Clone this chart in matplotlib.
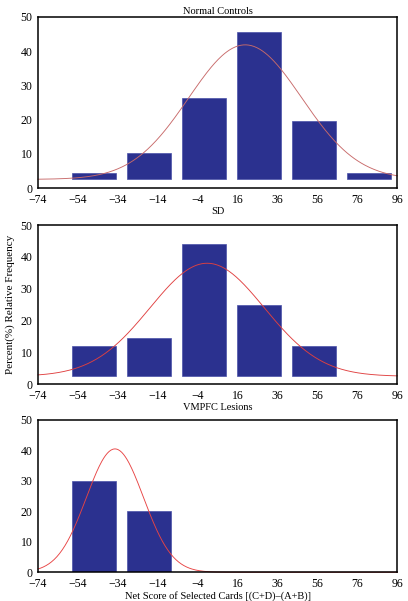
import numpy as np
import matplotlib
matplotlib.use("Agg")
import matplotlib.pyplot as plt

#######################
fontsize = 7.5
ticklabel_size = 8.5
linewidth = 0.65
axiswidth = 1.1
bar_color = "#2b318f"
########################

plt.rcParams['font.family'] = ['Liberation Serif', 'DejaVu Serif']

# x axis (tick labels as printed on the original)
tick_labels = ['\u221274', '\u221254', '\u221234', '\u221214', '\u22124',
               '16', '36', '56', '76', '96']
xmin, xmax = -74, 96
bin_centers = [-47.5, -21.5, 4.5, 30.5, 56.5, 82.5]
bin_width = 21

# Normal Controls (bars sit on a small offset)
nc_base = 2.6
nc_tops = [4.4, 10.2, 26.3, 45.5, 19.7, 4.4]
nc_fit = dict(mean=24.0, sd=26.7, peak=41.8, base=2.6, color="#c86a6a")

# SD
sd_base = 2.6
sd_tops = [11.9, 14.5, 44.0, 25.0, 11.9]
sd_fit = dict(mean=6.0, sd=27.0, peak=38.0, base=2.5, color="#e04040")

# VMPFC Lesions
vm_base = 0.0
vm_tops = [30.0, 20.0]
vm_fit = dict(mean=-37.6, sd=13.5, peak=40.5, base=0.0, color="#e84444")

# axes boxes in figure fractions [left, bottom, width, height]
boxes = [[0.0931, 0.6867, 0.8811, 0.2855],
         [0.0931, 0.3606, 0.8811, 0.2650],
         [0.0931, 0.0478, 0.8811, 0.2534]]

fig = plt.figure(figsize=(4.08, 6.01), dpi=100)

panels = [(nc_base, nc_tops, nc_fit, 'SD'),
          (sd_base, sd_tops, sd_fit, 'VMPFC Lesions'),
          (vm_base, vm_tops, vm_fit, 'Net Score of Selected Cards [(C+D)\u2013(A+B)]')]

xs = np.linspace(xmin, xmax, 400)
axes = []
for box, (base, tops, fit, xlab) in zip(boxes, panels):
    ax = fig.add_axes(box)
    n = len(tops)
    heights = [t - base for t in tops]
    ax.bar(bin_centers[:n], heights, bin_width, bottom=base,
           color=bar_color, edgecolor="#4a52a8", linewidth=0.5, zorder=2)
    curve = fit['base'] + (fit['peak'] - fit['base']) * \
        np.exp(-0.5 * ((xs - fit['mean']) / fit['sd']) ** 2)
    ax.plot(xs, curve, color=fit['color'], linewidth=linewidth, zorder=3,
            clip_on=False)
    ax.set_xlim(xmin, xmax)
    ax.set_ylim(0, 50)
    ax.set_xticks(np.linspace(xmin, xmax, 10))
    ax.set_xticklabels(tick_labels)
    ax.set_yticks([0, 10, 20, 30, 40, 50])
    ax.tick_params(length=0, labelsize=ticklabel_size, pad=4)
    for s in ax.spines.values():
        s.set_linewidth(axiswidth)
        s.set_zorder(3.5)
    ax.set_xlabel(xlab, fontsize=fontsize, labelpad=1)
    axes.append(ax)

axes[0].set_title('Normal Controls', fontsize=fontsize, pad=2)
axes[1].set_ylabel('Percent(%) Relative Frequency', fontsize=fontsize + 0.5,
                   labelpad=4)

plt.savefig("out.png", dpi=100)
